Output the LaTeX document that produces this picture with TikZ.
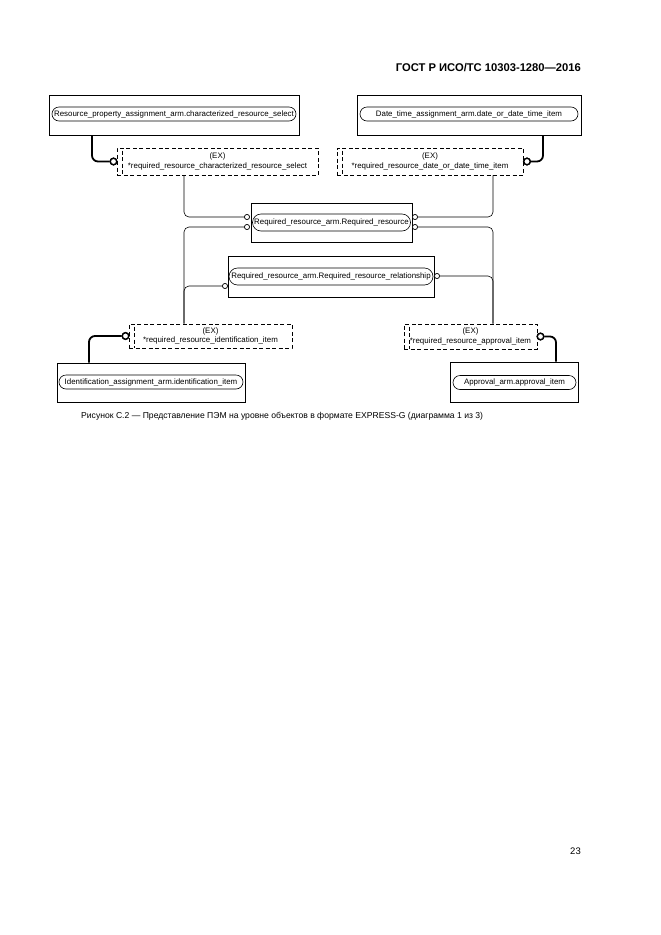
\documentclass[tikz,border=0pt]{standalone}
\usepackage{fontspec}
\setmainfont{Liberation Sans}
\usetikzlibrary{shapes.misc}
\begin{document}
\begin{tikzpicture}[x=1pt,y=-1pt,
  entbox/.style={draw, line width=0.7pt, inner sep=0pt},
  pill/.style={draw, rounded rectangle, line width=0.6pt, inner sep=0pt, minimum height=14pt, font=\fontsize{7.9}{9}\selectfont},
  exbox/.style={draw, dash pattern=on 4pt off 2.5pt, line width=0.7pt, inner sep=0pt, align=center, font=\fontsize{7.9}{9.5}\selectfont},
  exline/.style={draw, dash pattern=on 4pt off 2.5pt, line width=0.7pt},
  thinln/.style={line width=0.6pt, rounded corners=5pt},
  thickln/.style={line width=1.8pt, rounded corners=6pt},
  smallcirc/.style={circle, draw, line width=0.6pt, fill=white, inner sep=0pt, minimum size=5pt},
  bigcirc/.style={circle, draw, line width=1.4pt, fill=white, inner sep=0pt, minimum size=6.5pt},
  ]
\useasboundingbox[fill=white] (0,0) rectangle (661,935);

% header, caption, page number
\node[anchor=east, inner sep=0pt, font=\bfseries\fontsize{11.2}{13}\selectfont] (hdr) at (581,68) {ГОСТ Р ИСО/ТС 10303-1280—2016};
\node[anchor=west, inner sep=0pt, font=\fontsize{8.6}{10}\selectfont] (cap) at (81,416) {Рисунок С.2 — Представление ПЭМ на уровне объектов в формате EXPRESS-G (диаграмма 1 из 3)};
\node[anchor=east, inner sep=0pt, font=\fontsize{9.5}{11}\selectfont] (pg) at (581,851) {23};

% entity boxes
\node[entbox, minimum width=250pt, minimum height=40pt] (entTL) at (174,115) {};
\node[pill, minimum width=244pt] (pTL) at (174,114) {Resource\_property\_assignment\_arm.characterized\_resource\_select};
\node[entbox, minimum width=224pt, minimum height=40pt] (entTR) at (469,115) {};
\node[pill, minimum width=218pt] (pTR) at (469,114) {Date\_time\_assignment\_arm.date\_or\_date\_time\_item};

\node[entbox, minimum width=161pt, minimum height=39pt] (entRR) at (331.5,222.5) {};
\node[pill, minimum width=158pt, minimum height=17pt] (pRR) at (331.5,222.5) {Required\_resource\_arm.Required\_resource};
\node[entbox, minimum width=206pt, minimum height=41pt] (entRel) at (331,276.5) {};
\node[pill, minimum width=204pt, minimum height=17pt] (pRel) at (331,276.5) {Required\_resource\_arm.Required\_resource\_relationship};

\node[entbox, minimum width=188pt, minimum height=39pt] (entBL) at (151,382.5) {};
\node[pill, minimum width=184pt] (pBL) at (151,382) {Identification\_assignment\_arm.identification\_item};
\node[entbox, minimum width=128pt, minimum height=40pt] (entBR) at (514,382) {};
\node[pill, minimum width=123pt] (pBR) at (514.5,382.5) {Approval\_arm.approval\_item};

% dashed (EX) boxes
\node[exbox, minimum width=201pt, minimum height=27pt] (exTL) at (217.5,161.5) {(EX)\\ *required\_resource\_characterized\_resource\_select};
\node[exbox, minimum width=186pt, minimum height=27pt] (exTR) at (430,161.5) {(EX)\\ *required\_resource\_date\_or\_date\_time\_item};
\node[exbox, minimum width=163pt, minimum height=24pt] (exBL) at (210.5,336) {(EX)\\ *required\_resource\_identification\_item};
\node[exbox, minimum width=133pt, minimum height=25pt] (exBR) at (470.5,336.5) {(EX)\\ *required\_resource\_approval\_item};
\foreach \b in {exTL,exTR,exBL,exBR}
  \draw[exline] ([xshift=6pt,yshift=-3pt]\b.north west) -- ([xshift=6pt]\b.south west);

% thin connector circles (positions)
\node[smallcirc] (c1) at (247,217) {};
\node[smallcirc] (c2) at (415,217) {};
\node[smallcirc] (c3) at (247,227) {};
\node[smallcirc] (c4) at (415,227) {};
\node[smallcirc] (c5) at (225,286) {};
\node[smallcirc] (c6) at (437,276) {};

% thin connectors
\draw[thinln] ([xshift=-33.5pt]exTL.south) |- (c1.west);
\draw[thinln] ([xshift=63pt]exTR.south) |- (c2.east);
\draw[thinln] (c3.west) -| ([xshift=-26.5pt]exBL.north);
\draw[thinln] (c4.east) -| ([xshift=22.5pt]exBR.north);
\draw[thinln] (c5.west) -| ([xshift=-26.5pt]exBL.north);
\draw[thinln] (c6.east) -| ([xshift=22.5pt]exBR.north);

% thick connectors
\node[bigcirc] (C1) at (113.5,161.5) {};
\node[bigcirc] (C2) at (527,161.5) {};
\node[bigcirc] (C3) at (125.5,336) {};
\node[bigcirc] (C4) at (540.5,336.5) {};
\draw[thickln] ([xshift=-82pt]entTL.south) |- (C1.west);
\draw[thickln] ([xshift=74pt]entTR.south) |- (C2.east);
\draw[thickln] (C3.west) -| ([xshift=-62pt]entBL.north);
\draw[thickln] (C4.east) -| ([xshift=42pt]entBR.north);
\foreach \c in {C1,C2,C3,C4} \node[bigcirc] at (\c) {};
\foreach \c in {c1,c2,c3,c4,c5,c6} \node[smallcirc] at (\c) {};
\end{tikzpicture}
\end{document}
